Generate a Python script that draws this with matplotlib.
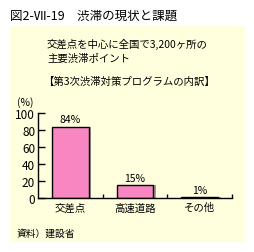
import matplotlib
matplotlib.use("Agg")
import matplotlib.pyplot as plt
from matplotlib.patches import Rectangle

plt.rcParams['font.family'] = ['Noto Sans CJK JP', 'DejaVu Sans']

categories = ['交差点', '高速道路', 'その他']
values = [84, 15, 1]
value_labels = ['84%', '15%', '1%']
yticks = [0, 20, 40, 60, 80, 100]

bg = '#FFFFDD'
pink = '#F886C0'

fig = plt.figure(figsize=(2.55, 2.53), dpi=100)
fig.patch.set_facecolor('white')

# yellow panel (behind the axes)
fig.patches.append(Rectangle((10 / 255, 1 - 243 / 253), 235 / 255, 216 / 253,
                             transform=fig.transFigure, facecolor=bg,
                             edgecolor='none', zorder=-1))

fig.text(10 / 255, 1 - 16 / 253, '図2-Ⅶ-19　渋滞の現状と課題', fontsize=9,
         va='center', ha='left')
fig.text(47 / 255, 1 - 44 / 253, '交差点を中心に全国で3,200ヶ所の', fontsize=7.5,
         va='center', ha='left')
fig.text(47 / 255, 1 - 59 / 253, '主要渋滞ポイント', fontsize=7.5,
         va='center', ha='left')
fig.text(43 / 255, 1 - 82 / 253, '【第3次渋滞対策プログラムの内訳】', fontsize=7.5,
         va='center', ha='left')
fig.text(17 / 255, 1 - 103 / 253, '(%)', fontsize=7.5, va='center', ha='left')
fig.text(17 / 255, 1 - 234 / 253, '資料）建設省', fontsize=7, va='center', ha='left')

ax = fig.add_axes([38 / 255, 1 - 199 / 253, 194 / 255, 85 / 253])
ax.set_facecolor('none')
x = list(range(len(categories)))
w = 0.57
# shadow
ax.bar([i + 0.04 for i in x], values, width=w, color='#A0A0A0',
       edgecolor='none', zorder=1)
ax.bar(x, values, width=w, color=pink, edgecolor='black', linewidth=1, zorder=2)
for i, v in enumerate(values):
    ax.text(i, v + 3, value_labels[i], ha='center', va='bottom', fontsize=7.5)

ax.set_xlim(-0.5, 2.5)
ax.set_ylim(0, 100)
ax.set_yticks(yticks)
ax.set_yticklabels([str(t) for t in yticks], fontsize=8.5)
ax.set_xticks([0.5, 1.5, 2.5])
ax.set_xticklabels([])
ax.tick_params(axis='y', direction='in', length=5, width=1, pad=2)
ax.tick_params(axis='x', direction='in', length=3, width=1)
for i, c in enumerate(categories):
    ax.text(i, -5, c, ha='center', va='top', fontsize=7.5)
for s in ['top', 'right']:
    ax.spines[s].set_visible(False)
for s in ['left', 'bottom']:
    ax.spines[s].set_linewidth(1)

fig.savefig('out.png', dpi=100)
